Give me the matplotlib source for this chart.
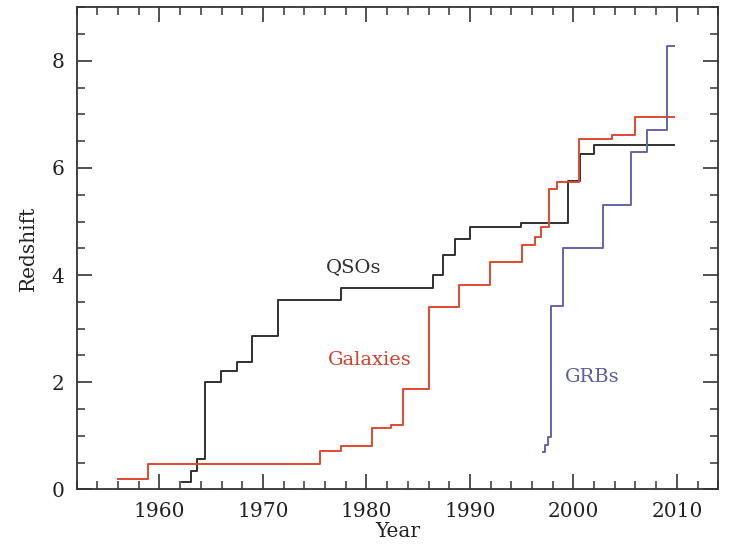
import numpy as np
import matplotlib
matplotlib.use('Agg')
import matplotlib.pyplot as plt
from matplotlib.ticker import MultipleLocator

# Step data: year at which the record changes, new redshift
qso_year = [1962.2, 1963.0, 1963.6, 1964.4, 1965.9, 1967.5, 1968.9, 1971.5, 1977.5,
            1986.4, 1987.4, 1988.6, 1990.0, 1994.9, 1999.5, 2000.6, 2002.0, 2009.7]
qso_z = [0.14, 0.35, 0.57, 2.01, 2.20, 2.38, 2.87, 3.54, 3.76,
         4.00, 4.37, 4.67, 4.89, 4.97, 5.76, 6.26, 6.42, 6.42]

gal_year = [1956.0, 1958.9, 1975.5, 1977.5, 1980.5, 1982.4, 1983.5, 1986.0, 1988.9,
            1991.9, 1995.0, 1996.3, 1996.9, 1997.6, 1998.4, 2000.5, 2003.7, 2006.0, 2009.7]
gal_z = [0.19, 0.47, 0.71, 0.80, 1.14, 1.20, 1.87, 3.41, 3.81,
         4.24, 4.56, 4.71, 4.90, 5.60, 5.74, 6.54, 6.62, 6.95, 6.95]

grb_year = [1997.1, 1997.3, 1997.5, 1997.8, 1999.0, 2002.9, 2005.6, 2007.1, 2009.0, 2009.7]
grb_z = [0.69, 0.83, 0.97, 3.42, 4.50, 5.31, 6.30, 6.71, 8.27, 8.27]

black = '#303030'
red = '#e0472f'
blue = '#6464ac'

plt.rcParams['font.family'] = ['DejaVu Serif']

fig = plt.figure(figsize=(7.29, 5.48), dpi=100)
ax = fig.add_axes([0.1052, 0.1071, 0.8801, 0.8796])

ax.plot(qso_year, qso_z, drawstyle='steps-post', color=black, lw=1.4)
ax.plot(gal_year, gal_z, drawstyle='steps-post', color=red, lw=1.4)
ax.plot(grb_year, grb_z, drawstyle='steps-post', color=blue, lw=1.4)

# series labels
ax.text(1978.8, 4.14, 'QSOs', color=black, fontsize=14, ha='center', va='center')
ax.text(1980.3, 2.42, 'Galaxies', color='#d5402e', fontsize=14, ha='center', va='center')
ax.text(2001.8, 2.10, 'GRBs', color='#5a5aa6', fontsize=14, ha='center', va='center')

ax.set_xlim(1952, 2014)
ax.set_ylim(0, 9)
ax.xaxis.set_major_locator(MultipleLocator(10))
ax.xaxis.set_minor_locator(MultipleLocator(2))
ax.yaxis.set_major_locator(MultipleLocator(2))
ax.yaxis.set_minor_locator(MultipleLocator(0.5))
ax.tick_params(which='both', direction='in', top=True, right=True,
               color='#333333', labelsize=14.5, labelcolor='#222222')
ax.tick_params(which='major', length=11, width=1.2, pad=9)
ax.tick_params(which='minor', length=6, width=1.1)
for s in ax.spines.values():
    s.set_linewidth(1.3)
    s.set_color('#333333')

ax.set_xlabel('Year', fontsize=14.5, color='#222222', labelpad=1)
ax.set_ylabel('Redshift', fontsize=14.5, color='#222222', labelpad=10)

fig.savefig('out.png', dpi=100)
